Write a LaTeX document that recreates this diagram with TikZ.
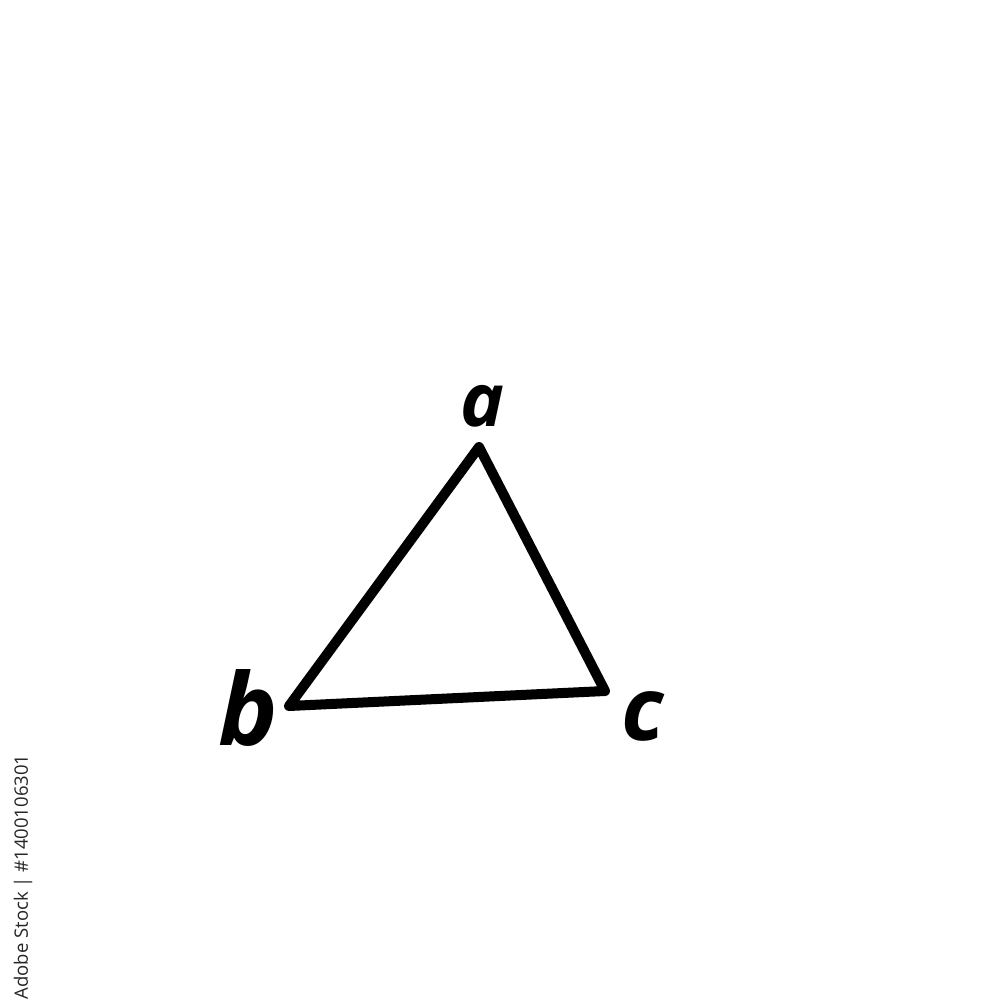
\documentclass[tikz,border=0pt]{standalone}
\usepackage{fontspec}
\setmainfont{Open Sans}
\begin{document}
\begin{tikzpicture}[x=1pt,y=-1pt,
  edge/.style={line width=10pt,line join=round,line cap=round,black},
  lbl/.style={inner sep=0pt},
  wmark/.style={inner sep=0pt,rotate=90,text=black!85,font=\fontsize{18.5}{20}\selectfont}]
\useasboundingbox[fill=white] (0,0) rectangle (1000,1000);
\coordinate (A) at (479,447);
\coordinate (B) at (289,706);
\coordinate (C) at (605,691);
\draw[edge] (A) -- (B) -- (C) -- cycle;
\node[lbl,font=\bfseries\itshape\fontsize{74}{74}\selectfont] (la) at (482,406) {a};
\node[lbl,font=\bfseries\itshape\fontsize{100}{100}\selectfont] (lb) at (248,708) {b};
\node[lbl,font=\bfseries\itshape\fontsize{88}{88}\selectfont] (lc) at (643,716) {c};
\node[wmark] (wm) at (23,877) {Adobe Stock | \#1400106301};
\end{tikzpicture}
\end{document}
